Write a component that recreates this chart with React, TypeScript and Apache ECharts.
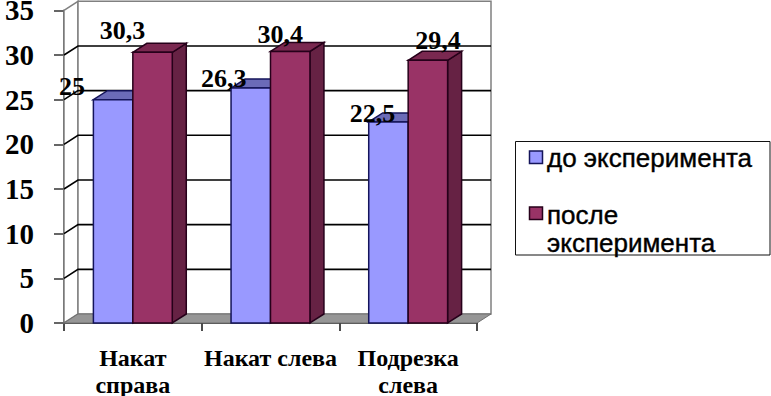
import React, { useEffect, useRef } from "react";
import * as echarts from "echarts";

const categories = ["Накат\nсправа", "Накат слева", "Подрезка\nслева"];
const seriesBeforeName = "до эксперимента";
const seriesAfterName = "после эксперимента";
const beforeValues = [25, 26.3, 22.5];
const afterValues = [30.3, 30.4, 29.4];
const yTicks = [0, 5, 10, 15, 20, 25, 30, 35];

// Manual label nudges from the default spot above each bar (presentation only)
const beforeLabelNudge = [[-41, -13], [-27, -10], [-16, -8]];
const afterLabelNudge = [[-30, -22], [-10, -17], [10, -20]];

const DX = 14;
const DY = 9;
const BAR_RATIO = 0.2865;
const SERIF = '"Liberation Serif", serif';
const SANS = '"Liberation Sans", sans-serif';

const blue = { front: "#9999ff", top: "#6b6bb8", side: "#5a5aa0", edge: "#14145a" };
const wine = { front: "#993366", top: "#7a2850", side: "#662244", edge: "#26001a" };

function poly(points: number[][], fill: string, stroke: string, lineWidth = 1.5) {
  return { type: "polygon", shape: { points }, style: { fill, stroke, lineWidth } };
}

function barRenderer(offsetBars: number, pal: typeof blue, nudges: number[][], labels: string[]) {
  return (params: any, api: any) => {
    const cat = api.value(0);
    const val = api.value(1);
    const base = api.coord([cat, 0]);
    const tip = api.coord([cat, val]);
    const band = api.size([1, 0])[0];
    const w = band * BAR_RATIO;
    const x0 = base[0] - w + offsetBars * w;
    const x1 = x0 + w;
    const yt = tip[1];
    const yb = base[1];
    const n = nudges[params.dataIndex];
    return {
      type: "group",
      children: [
        poly([[x1, yt], [x1 + DX, yt - DY], [x1 + DX, yb - DY], [x1, yb]], pal.side, pal.edge),
        poly([[x0, yt], [x0 + DX, yt - DY], [x1 + DX, yt - DY], [x1, yt]], pal.top, pal.edge),
        poly([[x0, yt], [x1, yt], [x1, yb], [x0, yb]], pal.front, pal.edge),
        {
          type: "text",
          x: (x0 + x1) / 2 + n[0],
          y: yt + n[1],
          style: {
            text: labels[params.dataIndex],
            fontFamily: SERIF,
            fontWeight: "bold",
            fontSize: 26,
            fill: "#000",
            align: "center",
            verticalAlign: "middle",
          },
        },
      ],
    };
  };
}

function wallRenderer(params: any, api: any) {
  const cs = params.coordSys;
  const tick = api.value(1);
  const y = api.coord([0, tick])[1];
  const left = cs.x;
  const right = cs.x + cs.width;
  const top = cs.y;
  const bottom = cs.y + cs.height;
  const children: any[] = [];
  if (params.dataIndex === 0) {
    children.push(
      poly([[left, top], [left + DX, top - DY], [left + DX, bottom - DY], [left, bottom]], "#ffffff", "#808080", 1.5),
      poly([[left + DX, top - DY], [right + DX, top - DY], [right + DX, bottom - DY], [left + DX, bottom - DY]], "#ffffff", "#808080", 1.5),
      poly([[left, bottom], [left + DX, bottom - DY], [right + DX, bottom - DY], [right, bottom]], "#969696", "#707070", 1),
    );
  }
  if (tick > 0 && tick < 35) {
    children.push({
      type: "polyline",
      shape: { points: [[left, y], [left + DX, y - DY], [right + DX, y - DY]] },
      style: { fill: "none", stroke: "#000", lineWidth: 1.6 },
    });
  }
  return { type: "group", children };
}

const fmt = (v: number) => String(v).replace(".", ",");

export default function App() {
  const ref = useRef<HTMLDivElement>(null);
  useEffect(() => {
    const chart = echarts.init(ref.current!, undefined, { renderer: "svg" });
    chart.setOption({
      animation: false,
      backgroundColor: "#fff",
      grid: { left: 64, top: 10.3, width: 413, height: 312.7, containLabel: false, outerBoundsMode: "none" },
      xAxis: {
        type: "category",
        data: categories,
        axisLine: { show: true, lineStyle: { color: "#111", width: 1.5 } },
        axisTick: { show: true, length: 8, inside: false, lineStyle: { color: "#111", width: 1.5 } },
        axisLabel: {
          color: "#000",
          fontFamily: SERIF,
          fontWeight: "bold",
          fontSize: 24,
          lineHeight: 27,
          margin: 21,
          interval: 0,
        },
      },
      yAxis: {
        type: "value",
        min: 0,
        max: 35,
        interval: 5,
        splitLine: { show: false },
        axisLine: { show: true, lineStyle: { color: "#333", width: 1.5 } },
        axisTick: { show: true, length: 10, lineStyle: { color: "#333", width: 1.5 } },
        axisLabel: {
          color: "#000",
          fontFamily: SERIF,
          fontWeight: "bold",
          fontSize: 29,
          lineHeight: 16,
          margin: 30,
          padding: [4, 0, 0, 0],
        },
      },
      series: [
        {
          type: "custom",
          name: "wall",
          silent: true,
          z: 1,
          renderItem: wallRenderer,
          encode: { x: 0, y: 1 },
          data: yTicks.map((t) => [0, t]),
        },
        {
          type: "custom",
          name: seriesBeforeName,
          z: 2,
          renderItem: barRenderer(0, blue, beforeLabelNudge, beforeValues.map(fmt)),
          encode: { x: 0, y: 1 },
          data: beforeValues.map((v, i) => [i, v]),
        },
        {
          type: "custom",
          name: seriesAfterName,
          z: 3,
          renderItem: barRenderer(1, wine, afterLabelNudge, afterValues.map(fmt)),
          encode: { x: 0, y: 1 },
          data: afterValues.map((v, i) => [i, v]),
        },
      ],
      graphic: [
        {
          type: "rect",
          shape: { x: 515.5, y: 141.5, width: 254.5, height: 113.5 },
          style: { fill: "#fff", stroke: "#111", lineWidth: 1 },
          z: 10,
        },
        {
          type: "rect",
          shape: { x: 529.5, y: 151, width: 13, height: 12.5 },
          style: { fill: blue.front, stroke: blue.edge, lineWidth: 1.5 },
          z: 11,
        },
        {
          type: "rect",
          shape: { x: 529.5, y: 207, width: 13, height: 12.5 },
          style: { fill: wine.front, stroke: wine.edge, lineWidth: 1.5 },
          z: 11,
        },
        {
          type: "text",
          x: 547,
          y: 158,
          z: 11,
          style: {
            text: seriesBeforeName,
            fontFamily: SANS,
            fontSize: 26,
            fill: "#000",
            stroke: "#000",
            lineWidth: 0.4,
            verticalAlign: "middle",
          },
        },
        {
          type: "text",
          x: 547,
          y: 228.5,
          z: 11,
          style: {
            text: seriesAfterName.replace(" ", "\n"),
            fontFamily: SANS,
            fontSize: 26,
            lineHeight: 28,
            fill: "#000",
            stroke: "#000",
            lineWidth: 0.4,
            verticalAlign: "middle",
          },
        },
      ],
    });
    return () => chart.dispose();
  }, []);
  return <div ref={ref} style={{ position: "fixed", left: 0, top: 0, width: 771, height: 396 }} />;
}
